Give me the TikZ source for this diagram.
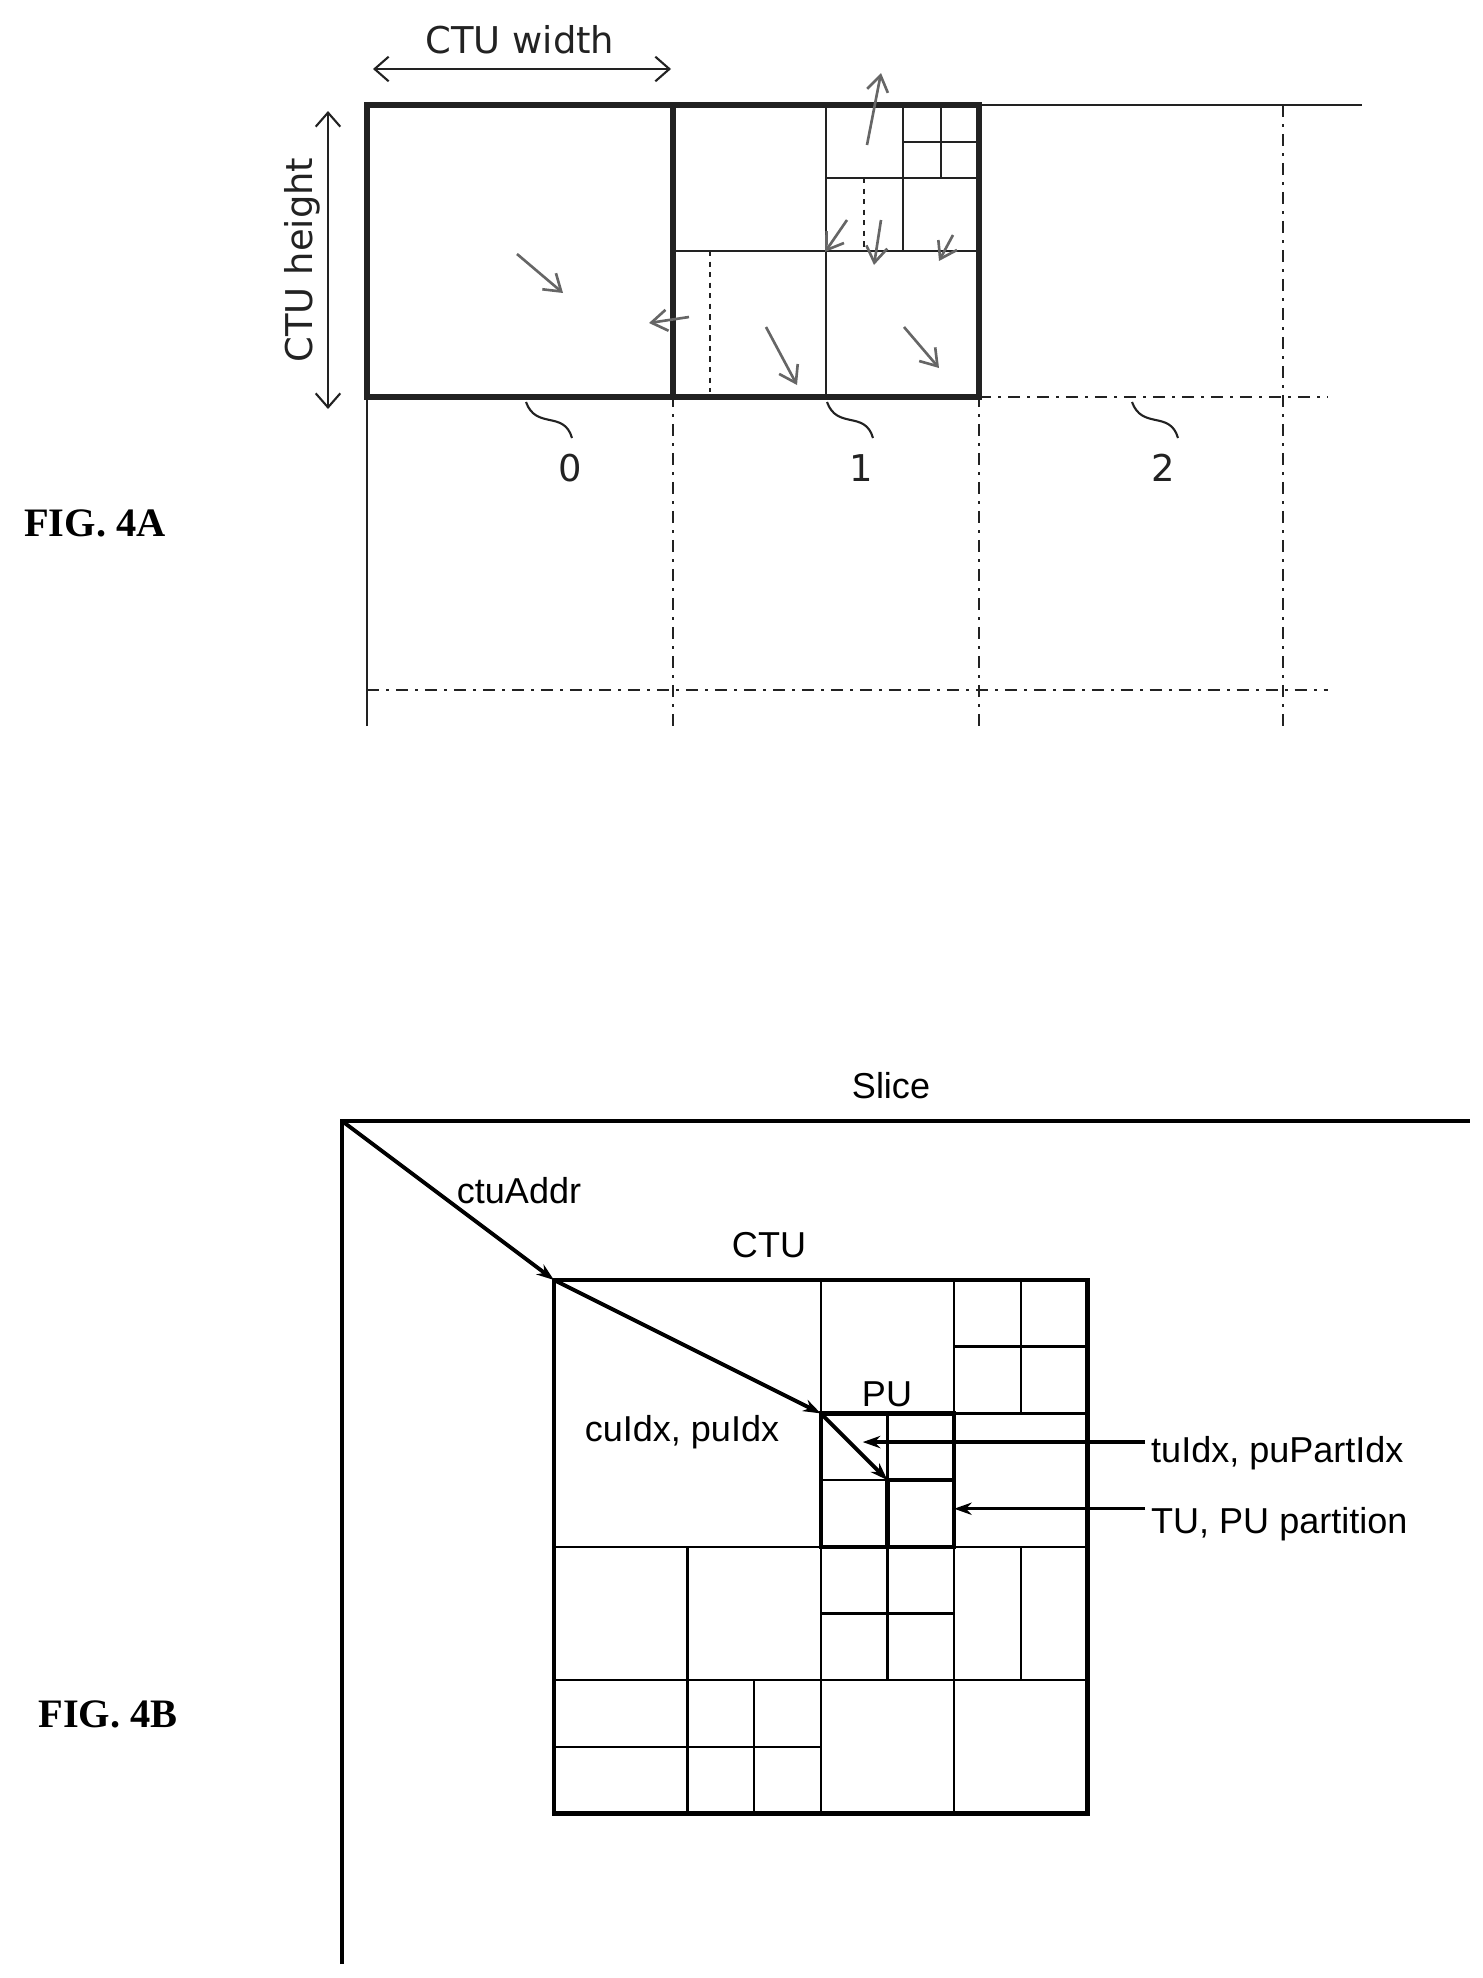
\documentclass[tikz,border=0pt]{standalone}
\usepackage{fontspec}
\setmainfont{Liberation Serif}
\newfontfamily\ctufont{DejaVu Sans}
\newfontfamily\arialfont{Liberation Sans}
\usetikzlibrary{arrows.meta}
\definecolor{G1}{HTML}{222222}
\definecolor{G2}{HTML}{666666}

\begin{document}
\begin{tikzpicture}[
  x=0.02cm, y=-0.02cm,
  ctuline/.style = {draw=G1, line width=3.5pt},
  thinline/.style = {draw=G1, line width=1.2pt},
  dashdot/.style = {draw=G1, line width=1.2pt, dash pattern=on 7pt off 4pt on 1.5pt off 4pt},
  scanarrow/.style = {draw=G2, line width=1.5pt, -{Straight Barb[length=9pt, width=12pt]}},
  dimarrow/.style = {draw=G1, line width=1.2pt, {Straight Barb[length=8pt, width=14pt]}-{Straight Barb[length=8pt, width=14pt]}},
  ctulabel/.style = {font=\ctufont\fontsize{21}{24}\selectfont, text=G1},
  figlabel/.style = {font=\bfseries\fontsize{23}{26}\selectfont},
  slicelabel/.style = {font=\arialfont\fontsize{20.5}{24}\selectfont},
  bigarrow/.style = {draw, line width=2.2pt, -{Stealth[length=10pt, width=7pt]}}
]
  \useasboundingbox (0,0) rectangle (1483,1978);

  % FIG. 4A
  \node[figlabel] (fig4a) at (95,523) {FIG. 4A};
  \draw[thinline] (367,726) -- (367,105) -- (1362,105);
  \foreach \x in {673,979,1283}
    \draw[dashdot] (\x,105) -- (\x,726);
  \draw[dashdot] (979,397) -- (1328,397);
  \draw[dashdot] (367,690) -- (1328,690);

  % CTU 1 partition
  \draw[thinline] (673,251) -- (979,251);
  \draw[thinline] (826,105) -- (826,397);
  \draw[thinline] (826,178) -- (979,178);
  \draw[thinline] (903,105) -- (903,251);
  \draw[thinline] (941,105) -- (941,178);
  \draw[thinline] (903,142) -- (979,142);
  \draw[thinline, dashed] (864,178) -- (864,251);
  \draw[thinline, dashed] (710,251) -- (710,392);

  \draw[ctuline] (367,105) rectangle (673,397);
  \draw[ctuline] (673,105) rectangle (979,397);

  % scan order
  \draw[scanarrow] (517,254) -- (563,293);
  \draw[scanarrow] (689,317) -- (649,323);
  \draw[scanarrow] (766,327) -- (797,385);
  \draw[scanarrow] (904,327) -- (939,368);
  \draw[scanarrow] (847,220) -- (825,252);
  \draw[scanarrow] (881,220) -- (874,265);
  \draw[scanarrow] (953,235) -- (939,261);
  \draw[scanarrow] (867,145) -- (881,73);

  % dimensions
  \draw[dimarrow] (373,69) -- (671,69);
  \node[ctulabel] (ctuw) at (520,40) {CTU width};
  \draw[dimarrow] (328,111) -- (328,409);
  \node[ctulabel, rotate=90] (ctuh) at (302,260) {CTU height};

  % CTU numbers
  \foreach \n/\x/\lx in {0/526/570, 1/827/861, 2/1132/1163} {
    \node[ctulabel] (num\n) at (\lx,468) {\n};
    \draw[thinline] (\x,402) .. controls (\x+10,430) and (\x+38,410) .. (\x+46,438);
  }

  % FIG. 4B
  \node[figlabel] (fig4b) at (108,1714) {FIG. 4B};
  \coordinate (slice) at (342,1121);
  \draw[line width=1.8pt] (342,1964) -- (slice) -- (1470,1121);
  \node[slicelabel] (slicetxt) at (891,1086) {Slice};
  \node[slicelabel] (addr) at (519,1191) {ctuAddr};
  \node[slicelabel] (ctutxt) at (769,1245) {CTU};

  \begin{scope}[shift={(554,1280)}, x=1.334cm, y=-1.334cm]
    \coordinate (ctu) at (0,0);
    \coordinate (pu) at (4,2);
    \coordinate (tu) at (5,3);
    \draw[line width=1.4pt] (4,0) -- (4,8) (0,4) -- (8,4) (0,6) -- (8,6) (6,0) -- (6,8);
    \draw[line width=1.4pt] (4,2) -- (8,2) (7,0) -- (7,2) (6,1) -- (8,1);
    \draw[line width=1.4pt] (2,4) -- (2,8) (3,6) -- (3,8) (0,7) -- (4,7);
    \draw[line width=1.4pt] (5,4) -- (5,6) (4,5) -- (6,5) (7,4) -- (7,6);
    \draw[line width=1.4pt] (5,2) -- (5,3) (4,3) -- (5,3);
    \draw[line width=2.5pt] (4,2) rectangle (6,4) (5,3) -- (5,4) (5,3) -- (6,3);
    \draw[line width=2.5pt] (0,0) rectangle (8,8);
    \coordinate (arr1) at (4.63,2.43);
    \coordinate (arr2) at (6,3.43);
  \end{scope}

  \draw[bigarrow] (slice) -- (ctu);
  \draw[bigarrow] (ctu) -- (pu);
  \draw[bigarrow] (pu) -- (tu);
  \node[slicelabel] (putxt) at (887,1394) {PU};
  \node[slicelabel] (cuidx) at (682,1432) {cuIdx, puIdx};
  \node[slicelabel, anchor=west] (tuidx) at (1145,1453) {tuIdx, puPartIdx};
  \node[slicelabel, anchor=west] (tupart) at (1145,1524) {TU, PU partition};
  \draw[bigarrow, line width=1.8pt] (tuidx.west |- arr1) -- (arr1);
  \draw[bigarrow, line width=1.8pt] (tupart.west |- arr2) -- (arr2);
\end{tikzpicture}
\end{document}
